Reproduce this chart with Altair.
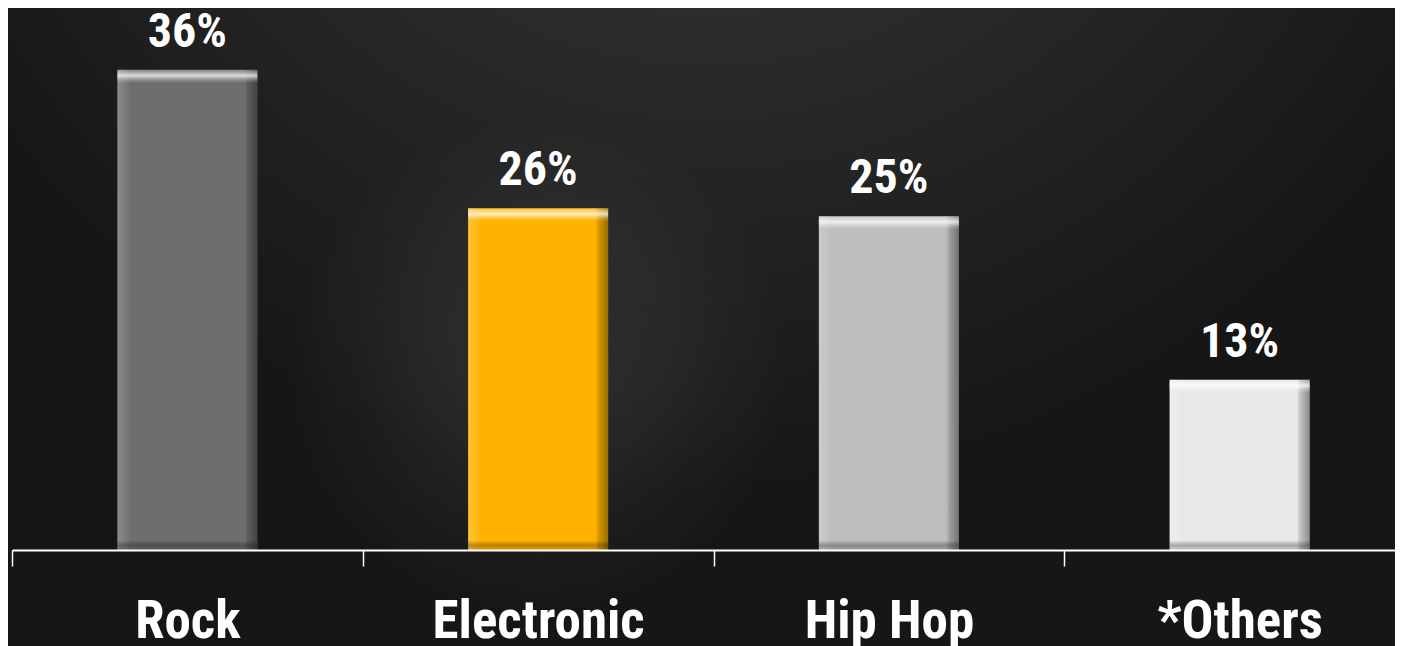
import altair as alt
import pandas as pd

genres = ["Rock", "Electronic", "Hip Hop", "*Others"]
shares = [36.1, 25.7, 25.1, 12.8]
labels = ["36%", "26%", "25%", "13%"]
bar_colors = ["#6e6e6e", "#ffb300", "#bdbdbd", "#e8e8e8"]

df = pd.DataFrame({"genre": genres, "share": shares, "label": labels, "col": bar_colors})

FONT = "'Liberation Sans Narrow', 'Roboto Condensed', 'DejaVu Sans Condensed', 'Arial Narrow', sans-serif"

xenc = alt.X("genre:N", sort=genres,
             scale=alt.Scale(paddingInner=0, paddingOuter=0),
             axis=alt.Axis(title=None, labelAngle=0, labelFont=FONT, labelFontSize=53,
                           labelFontWeight="bold", labelColor="white", labelLimit=0,
                           labelBaseline="alphabetic", labelPadding=71, labelOverlap=False,
                           domainColor="white", domainWidth=2, tickColor="white",
                           tickWidth=1.5, tickSize=16, tickBand="extent", grid=False,
                           zindex=2))
yscale = alt.Scale(domain=[0, 40.75], nice=False, zero=True)
yenc = alt.Y("share:Q", scale=yscale, axis=None)

base = alt.Chart(df)

# background radial glow
bg = alt.Chart(pd.DataFrame({"a": [0]})).mark_rect(
    fill=alt.RadialGradient(gradient="radial", x1=0.5, y1=0.0, r1=0, x2=0.5, y2=0.0, r2=0.62,
                            stops=[alt.GradientStop(color="#3f3f3f", offset=0),
                                   alt.GradientStop(color="#2c2c2c", offset=0.45),
                                   alt.GradientStop(color="#161616", offset=1)])
).encode(x=alt.value(-12), x2=alt.value(1403), y=alt.value(-8), y2=alt.value(640))

glow = alt.Chart(pd.DataFrame({"a": [0]})).mark_rect(
    fill=alt.RadialGradient(gradient="radial", x1=0.5, y1=0.5, r1=0, x2=0.5, y2=0.5, r2=0.5,
                            stops=[alt.GradientStop(color="rgba(255,255,255,0.10)", offset=0),
                                   alt.GradientStop(color="rgba(255,255,255,0.05)", offset=0.5),
                                   alt.GradientStop(color="rgba(255,255,255,0)", offset=1)])
).encode(x=alt.value(276), x2=alt.value(776), y=alt.value(120), y2=alt.value(600))

bars = base.mark_bar(width=140).encode(
    x=xenc, y=yenc, color=alt.Color("col:N", scale=None))

sides = base.mark_bar(width=140, fill=alt.LinearGradient(
    gradient="linear", x1=0, x2=1, y1=0, y2=0,
    stops=[alt.GradientStop(color="rgba(255,255,255,0.20)", offset=0),
           alt.GradientStop(color="rgba(255,255,255,0.07)", offset=0.07),
           alt.GradientStop(color="rgba(255,255,255,0)", offset=0.09),
           alt.GradientStop(color="rgba(0,0,0,0)", offset=0.91),
           alt.GradientStop(color="rgba(0,0,0,0.15)", offset=0.93),
           alt.GradientStop(color="rgba(0,0,0,0.40)", offset=1)])).encode(x=xenc, y=yenc)

top = base.mark_bar(width=140, y2Offset=13, fill=alt.LinearGradient(
    gradient="linear", x1=0, x2=0, y1=0, y2=1,
    stops=[alt.GradientStop(color="rgba(255,255,255,0.15)", offset=0),
           alt.GradientStop(color="rgba(255,255,255,0.75)", offset=0.45),
           alt.GradientStop(color="rgba(255,255,255,0.25)", offset=0.75),
           alt.GradientStop(color="rgba(255,255,255,0)", offset=1)])).encode(
    x=xenc, y=yenc, y2="share:Q")

bottom = base.mark_bar(width=140, yOffset=-9, fill=alt.LinearGradient(
    gradient="linear", x1=0, x2=0, y1=0, y2=1,
    stops=[alt.GradientStop(color="rgba(0,0,0,0.05)", offset=0),
           alt.GradientStop(color="rgba(0,0,0,0.28)", offset=0.5),
           alt.GradientStop(color="rgba(0,0,0,0.12)", offset=1)])).encode(
    x=xenc, y=alt.Y("zero:Q", scale=yscale, axis=None), y2="zero2:Q").transform_calculate(
    zero="0", zero2="0")

text = base.mark_text(font=FONT, fontSize=48, fontWeight="bold", color="white",
                      baseline="alphabetic", dy=-23).encode(x=xenc, y=yenc, text="label:N")

chart = alt.layer(bg, glow, bars, sides, top, bottom, text).properties(
    width=1403, height=542,
    autosize=alt.AutoSizeParams(type="none"),
    padding={"left": 4, "top": 0, "right": -20, "bottom": 98},
    background="#161616",
).configure_view(stroke=None)

chart.save("out.html", embed_options={"renderer": "svg", "actions": False})
